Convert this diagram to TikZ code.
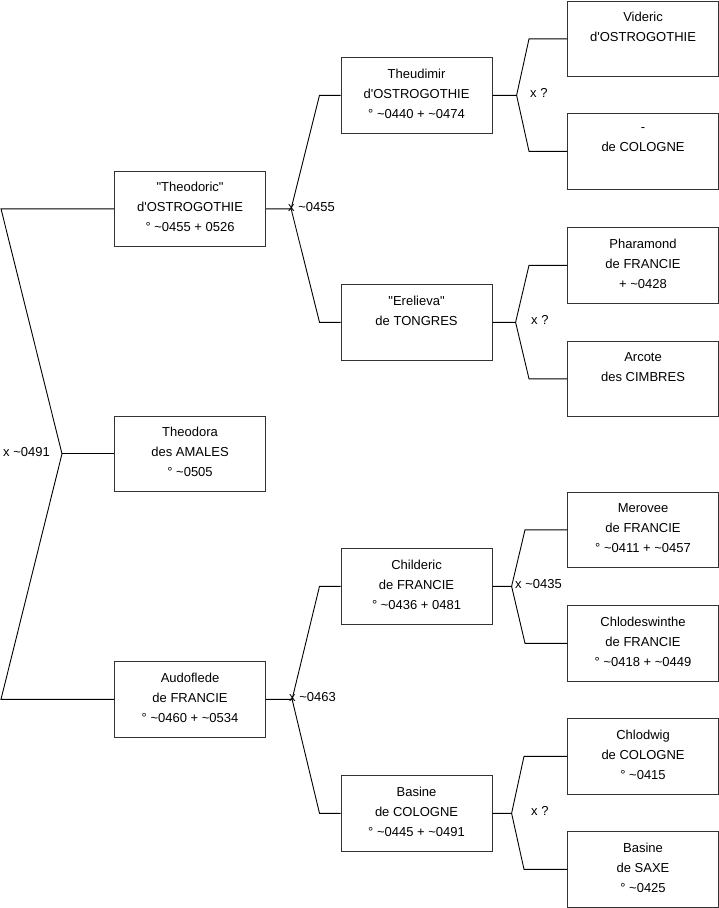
\documentclass[tikz,border=0pt]{standalone}
\usepackage{fontspec}
\newfontfamily\arialf{Liberation Sans}
\begin{document}
\begin{tikzpicture}[x=1pt,y=-1pt,
  every node/.style={font=\arialf\fontsize{13}{20}\selectfont},
  pbox/.style={draw=black!80,line width=1.1pt,anchor=north west,minimum width=151pt,minimum height=75.5pt,inner sep=0pt,align=center,
    execute at end node={\rule[-4pt]{0pt}{4pt}}},
  conn/.style={draw=black,line width=0.9pt},
  mlabel/.style={anchor=west,inner sep=0pt}]
\useasboundingbox (0,0) rectangle (719,908);
% column 1
\node[pbox] (theodoric) at (114,170.5) {"Theodoric"\\d'OSTROGOTHIE\\° \textasciitilde0455 + 0526};
\node[pbox] (theodora) at (114,415.5) {Theodora\\des AMALES\\° \textasciitilde0505};
\node[pbox] (audoflede) at (114,661) {Audoflede\\de FRANCIE\\° \textasciitilde0460 + \textasciitilde0534};
% column 2
\node[pbox] (theudimir) at (340.5,57) {Theudimir\\d'OSTROGOTHIE\\° \textasciitilde0440 + \textasciitilde0474};
\node[pbox] (erelieva) at (340.5,284) {"Erelieva"\\de TONGRES\\\mbox{}};
\node[pbox] (childeric) at (340.5,548) {Childeric\\de FRANCIE\\° \textasciitilde0436 + 0481};
\node[pbox] (basine) at (340.5,775) {Basine\\de COLOGNE\\° \textasciitilde0445 + \textasciitilde0491};
% column 3
\node[pbox] (videric) at (567,0.6) {Videric\\d'OSTROGOTHIE\\\mbox{}};
\node[pbox] (cologne) at (567,113) {-\\de COLOGNE\\\mbox{}};
\node[pbox] (pharamond) at (567,227) {Pharamond\\de FRANCIE\\ + \textasciitilde0428};
\node[pbox] (arcote) at (567,340.5) {Arcote\\des CIMBRES\\\mbox{}};
\node[pbox] (merovee) at (567,491.5) {Merovee\\de FRANCIE\\° \textasciitilde0411 + \textasciitilde0457};
\node[pbox] (chlodeswinthe) at (567,605) {Chlodeswinthe\\de FRANCIE\\° \textasciitilde0418 + \textasciitilde0449};
\node[pbox] (chlodwig) at (567,718) {Chlodwig\\de COLOGNE\\° \textasciitilde0415};
\node[pbox] (basinesaxe) at (567,831) {Basine\\de SAXE\\° \textasciitilde0425};
% root connector
\draw[conn] (theodoric.west) -- ([xshift=-113pt]theodoric.west) -- ([xshift=-52pt]theodora.west) -- ([xshift=-113pt]audoflede.west) -- (audoflede.west);
\draw[conn] ([xshift=-52pt]theodora.west) -- (theodora.west);
% Theodoric
\draw[conn] (theodoric.east) -- ([xshift=25pt]theodoric.east) -- ([xshift=-21pt]theudimir.west) -- (theudimir.west);
\draw[conn] ([xshift=25pt]theodoric.east) -- ([xshift=-21pt]erelieva.west) -- (erelieva.west);
% Audoflede
\draw[conn] (audoflede.east) -- ([xshift=26pt]audoflede.east) -- ([xshift=-21pt]childeric.west) -- (childeric.west);
\draw[conn] ([xshift=26pt]audoflede.east) -- ([xshift=-21pt]basine.west) -- (basine.west);
% Theudimir
\draw[conn] (theudimir.east) -- ([xshift=24pt]theudimir.east) -- ([xshift=-38pt]videric.west) -- (videric.west);
\draw[conn] ([xshift=24pt]theudimir.east) -- ([xshift=-38pt]cologne.west) -- (cologne.west);
% Erelieva
\draw[conn] (erelieva.east) -- ([xshift=23pt]erelieva.east) -- ([xshift=-38pt]pharamond.west) -- (pharamond.west);
\draw[conn] ([xshift=23pt]erelieva.east) -- ([xshift=-38pt]arcote.west) -- (arcote.west);
% Childeric
\draw[conn] (childeric.east) -- ([xshift=19pt]childeric.east) -- ([xshift=-42pt]merovee.west) -- (merovee.west);
\draw[conn] ([xshift=19pt]childeric.east) -- ([xshift=-42pt]chlodeswinthe.west) -- (chlodeswinthe.west);
% Basine
\draw[conn] (basine.east) -- ([xshift=19pt]basine.east) -- ([xshift=-43pt]chlodwig.west) -- (chlodwig.west);
\draw[conn] ([xshift=19pt]basine.east) -- ([xshift=-43pt]basinesaxe.west) -- (basinesaxe.west);
% marriage labels
\node[mlabel] (m0) at (3,452) {x \textasciitilde0491};
\node[mlabel] (m1) at (288,207) {x \textasciitilde0455};
\node[mlabel] (m2) at (289,697) {x \textasciitilde0463};
\node[mlabel] (m3) at (530,93) {x ?};
\node[mlabel] (m4) at (531,320) {x ?};
\node[mlabel] (m5) at (515,584) {x \textasciitilde0435};
\node[mlabel] (m6) at (531,811) {x ?};
\end{tikzpicture}
\end{document}
